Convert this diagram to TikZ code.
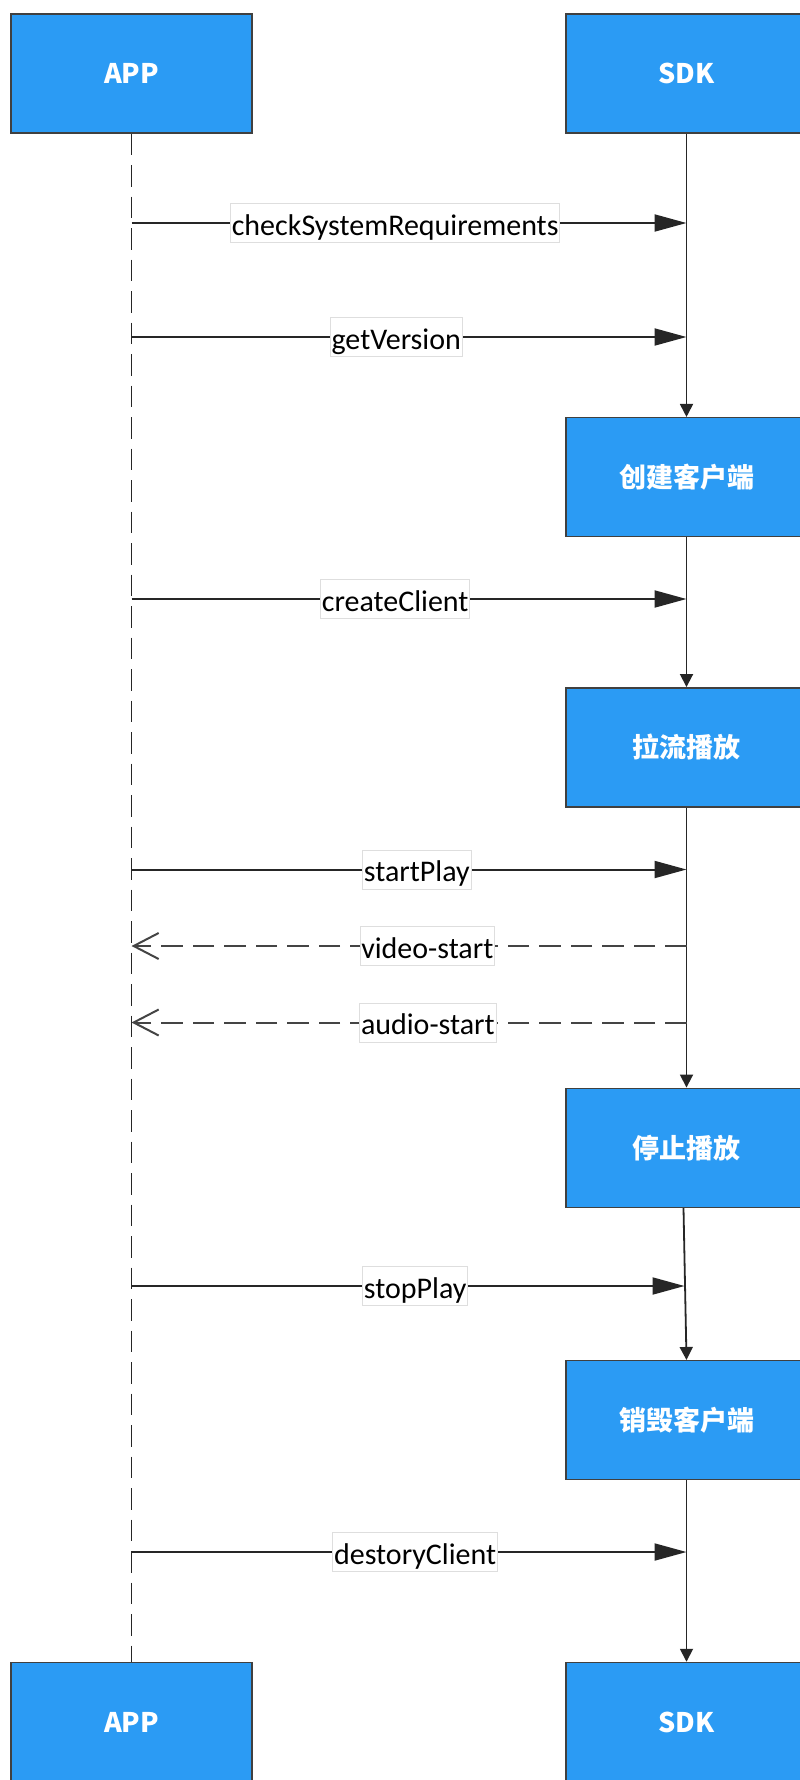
\documentclass[tikz,border=0pt]{standalone}
\usepackage{fontspec}
\setmainfont{Carlito}
\newfontfamily\cjk{Noto Sans CJK SC}
\usetikzlibrary{arrows.meta}
\definecolor{boxblue}{RGB}{43,155,244}
\definecolor{boxedge}{RGB}{64,64,64}
\definecolor{ln}{RGB}{38,38,38}
\definecolor{retln}{RGB}{68,68,68}
\definecolor{lblborder}{RGB}{222,222,222}
\begin{document}
\begin{tikzpicture}[x=1pt,y=-1pt,
 actor/.style={draw=boxedge, line width=1.5pt, fill=boxblue, minimum width=241pt, minimum height=119pt, inner sep=0pt, text=white, font=\cjk\bfseries\fontsize{27}{32}\selectfont},
 lbl/.style={draw=lblborder, solid, line width=0.8pt, fill=white, inner xsep=1.3pt, inner ysep=0pt, text height=24pt, text depth=0pt, minimum height=39pt, font=\fontsize{30}{36}\selectfont, text=black},
 msg/.style={draw=ln, line width=2pt, -{Triangle[length=32pt,width=17pt]}},
 ret/.style={draw=retln, line width=2pt, dash pattern=on 21.5pt off 10pt, -{Straight Barb[length=25pt,width=26pt]}},
 life/.style={draw=ln, line width=1.8pt, -{Triangle[length=13pt,width=13pt]}},
 applife/.style={draw=ln, line width=1.8pt, dash pattern=on 21.5pt off 10pt}
]
\useasboundingbox (0,0) rectangle (800,1780);

% actor boxes
\node[actor] (app1) at (131.5,73.3) {\raisebox{-3pt}{APP}};
\node[actor] (sdk1) at (686.5,73.3) {\raisebox{-3pt}{SDK}};
\node[actor] (create) at (686.5,477.2) {\raisebox{-3pt}{创建客户端}};
\node[actor] (pull) at (686.5,747.3) {\raisebox{-3pt}{拉流播放}};
\node[actor] (stop) at (686.5,1147.8) {\raisebox{-3pt}{停止播放}};
\node[actor] (destroy) at (686.5,1420.2) {\raisebox{-3pt}{销毁客户端}};
\node[actor] (app2) at (131.5,1722) {\raisebox{-3pt}{APP}};
\node[actor] (sdk2) at (686.5,1722) {\raisebox{-3pt}{SDK}};

% lifelines
\draw[applife] (app1.south) -- (app2.north);
\draw[life] (sdk1.south) -- (create.north);
\draw[life] (create.south) -- (pull.north);
\draw[life] (pull.south) -- (stop.north);
\draw[life] ([xshift=-3pt]stop.south) -- (destroy.north);
\draw[life] (destroy.south) -- (sdk2.north);

% message end points
\coordinate (a1) at (131.5,223);   \coordinate (s1) at (686.5,223);
\coordinate (a2) at (131.5,337);   \coordinate (s2) at (686.5,337);
\coordinate (a3) at (131.5,599);   \coordinate (s3) at (686.5,599);
\coordinate (a4) at (131.5,869.5); \coordinate (s4) at (686.5,869.5);
\coordinate (a5) at (131.5,946);   \coordinate (s5) at (686.5,946);
\coordinate (a6) at (131.5,1022.5);\coordinate (s6) at (686.5,1022.5);
\coordinate (a7) at (131.5,1286);  \coordinate (s7) at (684.5,1286);
\coordinate (a8) at (131.5,1552);  \coordinate (s8) at (686.5,1552);

% messages
\draw[msg] (a1) -- node[lbl,pos=0.475] (l1) {checkSystemRequirements} (s1);
\draw[msg] (a2) -- node[lbl,pos=0.477] (l2) {getVersion} (s2);
\draw[msg] (a3) -- node[lbl,pos=0.475] (l3) {createClient} (s3);
\draw[msg] (a4) -- node[lbl,pos=0.514] (l4) {startPlay} (s4);
\draw[ret] (s5) -- node[lbl,pos=0.467] (l5) {video-start} (a5);
\draw[ret] (s6) -- node[lbl,pos=0.466] (l6) {audio-start} (a6);
\draw[msg] (a7) -- node[lbl,pos=0.513] (l7) {stopPlay} (s7);
\draw[msg] (a8) -- node[lbl,pos=0.511] (l8) {destoryClient} (s8);
\end{tikzpicture}
\end{document}
